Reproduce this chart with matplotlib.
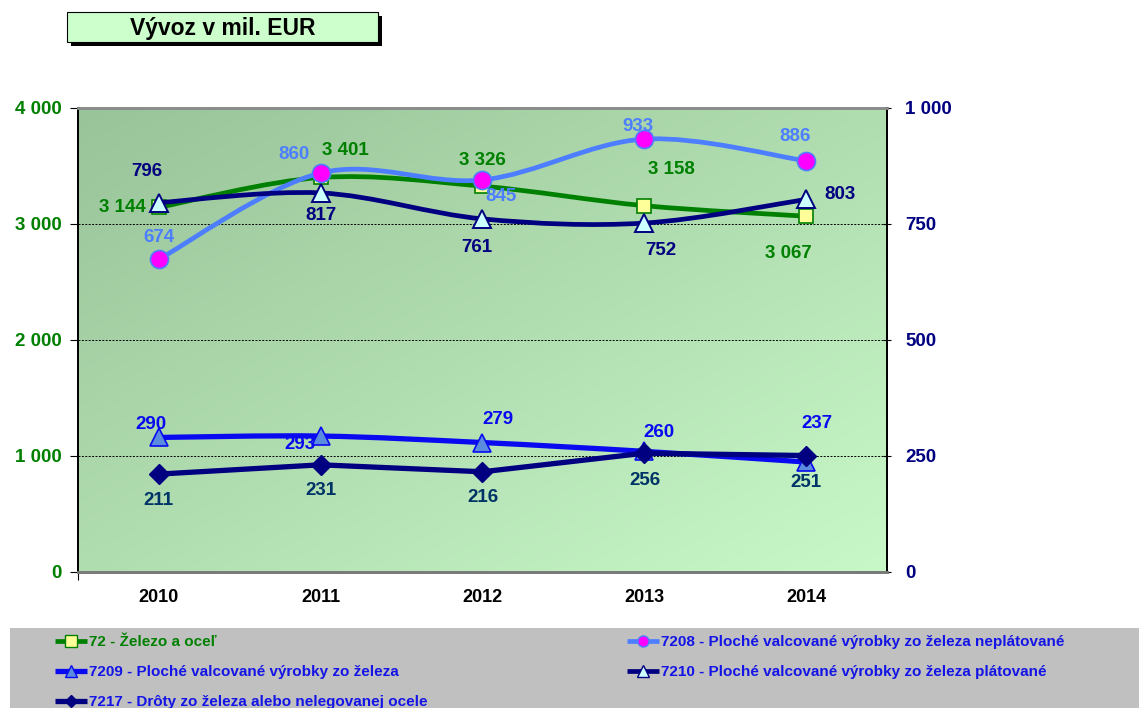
import numpy as np
import matplotlib
matplotlib.use("Agg")
import matplotlib.pyplot as plt
from matplotlib.path import Path
from matplotlib.patches import PathPatch, Rectangle
from matplotlib.lines import Line2D
from matplotlib.colors import LinearSegmentedColormap
from matplotlib.ticker import FuncFormatter

plt.rcParams['font.family'] = ['Liberation Sans', 'DejaVu Sans']
plt.rcParams['font.weight'] = 'bold'

# ---------------- data ----------------
years = ["2010", "2011", "2012", "2013", "2014"]
s72 = [3144, 3401, 3326, 3158, 3067]          # left axis
s7208 = [674, 860, 845, 933, 886]             # right axis
s7209 = [290, 293, 279, 260, 237]             # right axis
s7210 = [796, 817, 761, 752, 803]             # right axis
s7217 = [211, 231, 216, 256, 251]             # right axis
names = {
    "72": "72 - Železo a oceľ",
    "7208": "7208 - Ploché valcované výrobky zo železa neplátované",
    "7209": "7209 - Ploché valcované výrobky zo železa",
    "7210": "7210 - Ploché valcované výrobky zo železa plátované",
    "7217": "7217 - Drôty zo železa alebo nelegovanej ocele",
}
left_ticks = [0, 1000, 2000, 3000, 4000]
right_ticks = [0, 250, 500, 750, 1000]
title = "Vývoz v mil. EUR"

# label offsets in pixels (layout only)
off72 = [(-37, 0), (25, 27), (0, 26), (27, 36), (-18, -37)]
off7208 = [(0, 22), (-27, 18), (19, -17), (-6, 13), (-11, 24)]
off7209 = [(-8, 13), (-21, -8), (15, 23), (15, 19), (11, 39)]
off7210 = [(-12, 31), (0, -23), (-6, -29), (17, -27), (34, 5)]
off7217 = [(0, -26), (0, -26), (0, -26), (1, -27), (0, -27)]

W, H = 1139, 708
fig = plt.figure(figsize=(W / 100, H / 100), dpi=100)
fig.patch.set_facecolor("white")

ax = fig.add_axes([78 / W, 1 - 572 / H, 809 / W, 464 / H])
ax2 = ax.twinx()

# gradient background: dark top-left -> light bottom-right
gx, gy = np.meshgrid(np.linspace(0, 1, 256), np.linspace(0, 1, 256))
grad = (gx + gy) / 2.0
cmap = LinearSegmentedColormap.from_list("g", ["#99C399", "#C8F8C8"])
ax.imshow(grad, extent=[0, 1, 0, 1], transform=ax.transAxes, aspect="auto",
          cmap=cmap, origin="upper", zorder=0, interpolation="bilinear")

xs = np.arange(len(years)) + 0.5


def smooth_path(x, y):
    pts = np.column_stack([x, y]).astype(float)
    n = len(pts)
    verts = [pts[0]]
    codes = [Path.MOVETO]
    for i in range(n - 1):
        p0 = pts[max(i - 1, 0)]
        p1 = pts[i]
        p2 = pts[i + 1]
        p3 = pts[min(i + 2, n - 1)]
        c1 = p1 + (p2 - p0) / 6.0
        c2 = p2 - (p3 - p1) / 6.0
        verts += [c1, c2, p2]
        codes += [Path.CURVE4] * 3
    return Path(verts, codes)


def fmt(v):
    return f"{v:,}".replace(",", " ")


def draw_series(a, vals, color, lw, smooth, marker, ms, mfc, mec, mew, z):
    if smooth:
        a.add_patch(PathPatch(smooth_path(xs, vals), facecolor="none",
                              edgecolor=color, lw=lw, zorder=z,
                              capstyle="round", joinstyle="round"))
    else:
        a.plot(xs, vals, color=color, lw=lw, zorder=z, solid_joinstyle="round")
    a.plot(xs, vals, linestyle="none", marker=marker, ms=ms, mfc=mfc,
           mec=mec, mew=mew, zorder=z + 0.5)


def labels(a, vals, offs, color):
    for x, v, (dx, dy) in zip(xs, vals, offs):
        a.annotate(fmt(v), xy=(x, v), xytext=(dx, dy), textcoords="offset pixels",
                   ha="center", va="center", fontsize=13.5, fontweight="bold",
                   color=color, zorder=10)


# series
c72, c7208, c7209, c7210, c7217 = "#008000", "#4D7EFF", "#0A0AF0", "#000080", "#000080"
draw_series(ax, s72, c72, 3.4, True, "s", 10, "#FFFF99", "#008000", 1.2, 3)
draw_series(ax2, s7208, c7208, 3.4, True, "o", 13, "#FF00FF", "#4D7EFF", 1.2, 3)
draw_series(ax2, s7209, c7209, 3.8, True, "^", 13, "#5B8BDF", "#0A0AF0", 1.2, 3)
draw_series(ax2, s7210, c7210, 3.4, True, "^", 13, "#CCFFFF", "#000080", 1.4, 4)
draw_series(ax2, s7217, c7217, 3.8, False, "D", 10, "#000080", "#000080", 1.0, 4)

labels(ax, s72, off72, "#008000")
labels(ax2, s7208, off7208, "#4D7EFF")
labels(ax2, s7209, off7209, "#0A0AF0")
labels(ax2, s7210, off7210, "#000080")
labels(ax2, s7217, off7217, "#003366")

# axes
ax.set_xlim(0, len(years))
ax.set_ylim(left_ticks[0], left_ticks[-1])
ax2.set_ylim(right_ticks[0], right_ticks[-1])
ax.set_yticks(left_ticks)
ax2.set_yticks(right_ticks)
ax.yaxis.set_major_formatter(FuncFormatter(lambda v, p: fmt(int(v))))
ax2.yaxis.set_major_formatter(FuncFormatter(lambda v, p: fmt(int(v))))
ax.set_xticks([0])
ax.set_xticklabels([])
ax.set_xticks(xs, minor=True)
ax.set_xticklabels(years, minor=True)
ax.tick_params(axis="x", which="major", length=6, direction="out", color="black")
ax.tick_params(axis="x", which="minor", length=0, pad=12, labelsize=13,
               labelcolor="black")
ax.tick_params(axis="y", length=6, direction="out", pad=6, labelsize=13.5,
               labelcolor="#008000", color="black")
ax2.tick_params(axis="y", length=6, direction="inout", pad=10, labelsize=13.5,
                labelcolor="#000080", color="black")
for lab in ax.get_yticklabels() + ax2.get_yticklabels() + ax.get_xticklabels(minor=True):
    lab.set_fontweight("bold")

ax.grid(False)
for gv in left_ticks[1:-1]:
    ax.axhline(gv, color="black", lw=0.7, ls=(0, (2, 1.5)), zorder=1)

for a in (ax, ax2):
    a.spines["top"].set_color("#8C8C8C")
    a.spines["top"].set_linewidth(2)
    a.spines["bottom"].set_color("#7A7A7A")
    a.spines["bottom"].set_linewidth(2)
    a.spines["left"].set_color("black")
    a.spines["left"].set_linewidth(1.3)
    a.spines["right"].set_color("black")
    a.spines["right"].set_linewidth(1.3)

# title box with shadow
tx, ty, tw, th = 67, 12, 311, 30
fig.patches.append(Rectangle(((tx + 4) / W, 1 - (ty + th + 4) / H), tw / W, th / H,
                             transform=fig.transFigure, facecolor="black",
                             edgecolor="none", zorder=1))
fig.patches.append(Rectangle((tx / W, 1 - (ty + th) / H), tw / W, th / H,
                             transform=fig.transFigure, facecolor="#CCFFCC",
                             edgecolor="black", lw=0.8, zorder=2))
fig.text((tx + tw / 2) / W, 1 - (ty + th / 2 + 1) / H, title, ha="center", va="center",
         fontsize=16.5, fontweight="bold", color="black", zorder=3)

# legend background
fig.patches.append(Rectangle((10 / W, 0), (W - 10) / W, 80 / H,
                             transform=fig.transFigure, facecolor="#C0C0C0",
                             edgecolor="none", zorder=0))


def handle(color, lw, marker, ms, mfc, mec):
    return Line2D([], [], color=color, lw=lw, marker=marker, ms=ms, mfc=mfc, mec=mec,
                  solid_capstyle="butt")


h72 = handle(c72, 3.4, "s", 8, "#FFFF99", "#008000")
h7208 = handle(c7208, 3.4, "o", 8, "#FF00FF", "#4D7EFF")
h7209 = handle(c7209, 3.8, "^", 8, "#5B8BDF", "#0A0AF0")
h7210 = handle(c7210, 3.4, "^", 8, "#CCFFFF", "#000080")
h7217 = handle(c7217, 3.8, "D", 6, "#000080", "#000080")

common = dict(loc="upper left", frameon=False, borderaxespad=0, borderpad=0,
              handlelength=2.1, handletextpad=0.15, labelspacing=1.05,
              prop={"weight": "bold", "size": 11})
leg1 = fig.legend([h72, h7209, h7217], [names["72"], names["7209"], names["7217"]],
                  bbox_to_anchor=(55 / W, 1 - 635 / H),
                  labelcolor=["#008000", "#1414E6", "#1414E6"], **common)
leg2 = fig.legend([h7208, h7210], [names["7208"], names["7210"]],
                  bbox_to_anchor=(627 / W, 1 - 635 / H),
                  labelcolor=["#1414E6", "#1414E6"], **common)

fig.savefig("out.png", dpi=100, facecolor="white")
